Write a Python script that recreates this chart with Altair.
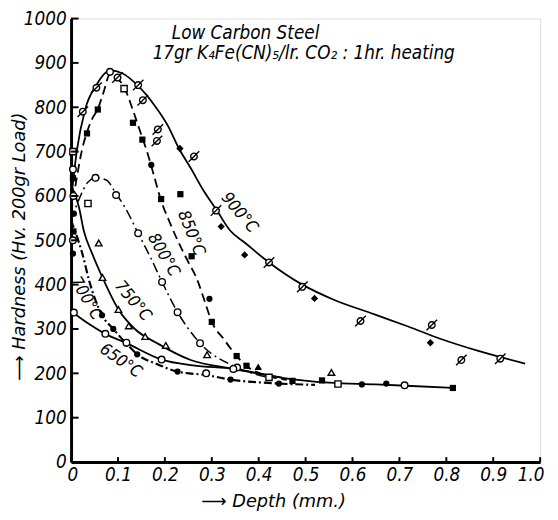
import altair as alt
import pandas as pd

# ---------------- curve values (depth mm, hardness Hv) ----------------
c900_d = [0.0, 0.012, 0.03, 0.055, 0.083, 0.11, 0.143, 0.178, 0.206, 0.23, 0.255, 0.283, 0.311,
          0.339, 0.37, 0.422, 0.493, 0.56, 0.647, 0.72, 0.787, 0.87, 0.968]
c900_h = [590, 700, 795, 852, 883, 876, 848, 804, 759, 707, 663, 611, 567,
          522, 495, 450, 400, 366, 333, 305, 278, 250, 222]

c850_d = [0.0, 0.012, 0.024, 0.034, 0.045, 0.057, 0.069, 0.083, 0.098, 0.115, 0.132, 0.15, 0.164,
          0.178, 0.192, 0.209, 0.227, 0.248, 0.269, 0.286, 0.3, 0.325, 0.353, 0.374, 0.423, 0.46]
c850_h = [560, 640, 707, 744, 774, 796, 833, 874, 866, 841, 793, 737, 693,
          641, 589, 544, 500, 455, 411, 359, 316, 278, 239, 217, 193, 185]

c800_d = [0.0, 0.02, 0.035, 0.052, 0.075, 0.096, 0.115, 0.143, 0.17, 0.194, 0.227, 0.275, 0.354, 0.423]
c800_h = [545, 600, 630, 641, 636, 605, 574, 516, 460, 406, 338, 268, 213, 190]

c750_d = [0.0, 0.017, 0.027, 0.045, 0.067, 0.101, 0.136, 0.185, 0.255, 0.346, 0.45]
c750_h = [625, 574, 522, 470, 416, 344, 300, 267, 230, 210, 190]

c700_d = [0.0, 0.013, 0.024, 0.038, 0.066, 0.09, 0.118, 0.141, 0.185, 0.227, 0.288, 0.34, 0.443, 0.52]
c700_h = [545, 507, 470, 411, 331, 300, 267, 243, 220, 204, 196, 186, 177, 174]

c650_d = [0.0, 0.04, 0.073, 0.118, 0.193, 0.26, 0.346, 0.45, 0.55, 0.65, 0.714, 0.814]
c650_h = [340, 310, 289, 268, 231, 218, 210, 190, 179, 175, 172, 167]

series_names = ["900", "850", "800", "750", "700", "650"]

# ---------------- measured points ----------------
slash_d = [0.025, 0.054, 0.099, 0.143, 0.153, 0.185, 0.183, 0.262, 0.309, 0.422, 0.493, 0.617, 0.769, 0.832, 0.915]
slash_h = [790, 844, 867, 850, 816, 750, 724, 689, 567, 450, 395, 318, 309, 230, 233]

dia_d = [0.232, 0.32, 0.37, 0.519, 0.766]
dia_h = [707, 531, 467, 369, 269]

sq_d = [0.034, 0.057, 0.132, 0.152, 0.192, 0.233, 0.257, 0.3, 0.353, 0.374, 0.472, 0.535, 0.814, 0.005, 0.004]
sq_h = [741, 795, 765, 727, 593, 604, 464, 316, 239, 217, 183, 184, 167, 520, 640]

dot_d = [0.171, 0.295, 0.066, 0.09, 0.118, 0.141, 0.227, 0.34, 0.443, 0.62, 0.672, 0.004, 0.006]
dot_h = [670, 368, 331, 300, 267, 243, 204, 186, 177, 175, 177, 470, 560]

osq_d = [0.113, 0.036, 0.422, 0.569, 0.004]
osq_h = [842, 583, 191, 176, 700]

ring_d = [0.083, 0.052, 0.096, 0.143, 0.194, 0.227, 0.275, 0.354, 0.006, 0.073, 0.118, 0.193,
          0.288, 0.346, 0.711, 0.004, 0.005, 0.004]
ring_h = [880, 641, 602, 516, 406, 338, 268, 213, 337, 289, 269, 231,
          200, 210, 173, 660, 600, 500]

tri_d = [0.059, 0.067, 0.101, 0.123, 0.158, 0.202, 0.29, 0.555]
tri_h = [494, 416, 344, 307, 283, 263, 242, 202]

ftri_d = [0.399]
ftri_h = [215]

# ---------------- axis ticks ----------------
x_ticks = [0, 0.1, 0.2, 0.3, 0.4, 0.5, 0.6, 0.7, 0.8, 0.9, 1.0]
y_ticks = [0, 100, 200, 300, 400, 500, 600, 700, 800, 900, 1000]

# ---------------- annotations ----------------
ann_text = ["900°C", "850°C", "800°C", "750°C", "700°C", "650°C"]
ann_d = [0.359, 0.256, 0.197, 0.132, 0.032, 0.106]
ann_h = [562, 516, 467, 363, 369, 228]
ann_angle = [50, 68, 60, 50, 60, 35]

title_lines = ["Low Carbon Steel", "17gr K\u2084Fe(CN)\u2085/lr. CO\u2082 : 1hr. heating"]
title_d = [0.372, 0.496]
title_h = [967, 922]
title_size = [19, 19]

# ---------------- build tables ----------------
curves = [(c900_d, c900_h), (c850_d, c850_h), (c800_d, c800_h),
          (c750_d, c750_h), (c700_d, c700_h), (c650_d, c650_h)]
rows = []
for name, (ds, hs) in zip(series_names, curves):
    for i, (d, h) in enumerate(zip(ds, hs)):
        rows.append({"series": name, "i": i, "depth": d, "hardness": h})
curve_df = pd.DataFrame(rows)

sym_sets = {
    "slash": (slash_d, slash_h), "dia": (dia_d, dia_h), "sq": (sq_d, sq_h),
    "dot": (dot_d, dot_h), "osq": (osq_d, osq_h), "ring": (ring_d, ring_h),
    "tri": (tri_d, tri_h), "ftri": (ftri_d, ftri_h),
}
prow = []
for s, (ds, hs) in sym_sets.items():
    for d, h in zip(ds, hs):
        prow.append({"sym": s, "depth": d, "hardness": h})
pts_df = pd.DataFrame(prow)

xt_df = pd.DataFrame({"depth": x_ticks, "hardness": [0] * len(x_ticks), "h2": [11] * len(x_ticks)})
yt_df = pd.DataFrame({"depth": [0] * len(y_ticks), "d2": [0.016] * len(y_ticks), "hardness": y_ticks})

LABEL_FONT = "Liberation Sans Narrow, DejaVu Sans Condensed, DejaVu Sans"
TITLE_FONT = "DejaVu Sans"

X = alt.X("depth:Q", scale=alt.Scale(domain=[0, 1], nice=False, zero=False),
          axis=alt.Axis(values=x_ticks, ticks=False, grid=False, domainWidth=3, domainColor="black",
                        labelExpr="datum.value == 0 ? '0' : format(datum.value, '.1f')",
                        labelFont=LABEL_FONT, labelFontStyle="italic", labelFontSize=19,
                        labelColor="black", labelPadding=4, labelFlush=True, labelFlushOffset=4,
                        title="\u27f6 Depth (mm.)", titleFont=TITLE_FONT, titleFontStyle="italic",
                        titleFontWeight="normal", titleFontSize=18, titleColor="black",
                        titleX=205, titleY=40, titleAlign="center", titleBaseline="middle"))
Y = alt.Y("hardness:Q", scale=alt.Scale(domain=[0, 1000], nice=False),
          axis=alt.Axis(values=y_ticks, ticks=False, grid=False, domainWidth=3, domainColor="black",
                        format="d", labelFont=LABEL_FONT, labelFontStyle="italic", labelFontSize=19,
                        labelColor="black", labelPadding=5,
                        title="\u27f6 Hardness (Hv. 200gr Load)", titleFont=TITLE_FONT,
                        titleFontStyle="italic", titleFontWeight="normal", titleFontSize=18,
                        titleColor="black", titleAngle=-90, titleX=-52, titleY=231,
                        titleAlign="center", titleBaseline="middle"))

styles = {
    "900": dict(strokeWidth=1.8),
    "850": dict(strokeWidth=1.8, strokeDash=[9, 5]),
    "800": dict(strokeWidth=1.5, strokeDash=[10, 4, 2, 4]),
    "750": dict(strokeWidth=1.8),
    "700": dict(strokeWidth=2.2, strokeDash=[8, 3, 2, 3]),
    "650": dict(strokeWidth=1.8),
}

layers = []
for name in series_names:
    layers.append(
        alt.Chart(curve_df).transform_filter(alt.datum.series == name)
        .mark_line(color="black", interpolate="monotone", **styles[name])
        .encode(x=X, y=Y, order="i:Q")
    )

SLASH = "M-1,0A1,1,0,1,1,1,0A1,1,0,1,1,-1,0M-1.6,1.6L1.6,-1.6"
marks = {
    "slash": dict(shape=SLASH, filled=False, size=45),
    "dia": dict(shape="diamond", filled=True, size=55),
    "sq": dict(shape="square", filled=True, size=40),
    "dot": dict(shape="circle", filled=True, size=40),
    "osq": dict(shape="square", filled=False, size=40),
    "ring": dict(shape="circle", filled=False, size=45),
    "tri": dict(shape="triangle-up", filled=False, size=45),
    "ftri": dict(shape="triangle-up", filled=True, size=60),
}
for s, m in marks.items():
    if m["filled"]:
        mk = alt.Chart(pts_df).transform_filter(alt.datum.sym == s).mark_point(
            shape=m["shape"], size=m["size"], filled=True, color="black", opacity=1)
    else:
        mk = alt.Chart(pts_df).transform_filter(alt.datum.sym == s).mark_point(
            shape=m["shape"], size=m["size"], filled=False, stroke="black", fill="white",
            fillOpacity=1, strokeWidth=1.4, opacity=1)
    layers.append(mk.encode(x=X, y=Y))

layers.append(alt.Chart(xt_df).mark_rule(color="black", strokeWidth=2)
              .encode(x=X, y=Y, y2="h2:Q"))
layers.append(alt.Chart(yt_df).mark_rule(color="black", strokeWidth=2)
              .encode(x=X, x2="d2:Q", y=Y))

for t, d, h, a in zip(ann_text, ann_d, ann_h, ann_angle):
    one = pd.DataFrame({"text": [t], "depth": [d], "hardness": [h]})
    layers.append(alt.Chart(one).mark_text(font=LABEL_FONT, fontStyle="italic", fontSize=17,
                                           angle=a, align="center", baseline="middle", color="black")
                  .encode(x=X, y=Y, text="text:N"))

for t, d, h, sz in zip(title_lines, title_d, title_h, title_size):
    one = pd.DataFrame({"text": [t], "depth": [d], "hardness": [h]})
    layers.append(alt.Chart(one).mark_text(font=LABEL_FONT, fontStyle="italic", fontSize=sz,
                                           align="center", baseline="middle", color="black")
                  .encode(x=X, y=Y, text="text:N"))

chart = alt.layer(*layers).properties(
    width=476, height=450,
    autosize=alt.AutoSizeParams(type="none"),
    padding={"left": 64, "top": 7, "right": 10, "bottom": 48},
).configure_view(stroke=None).configure(background="white")

chart.save("out.html", embed_options={"renderer": "svg", "actions": False})
